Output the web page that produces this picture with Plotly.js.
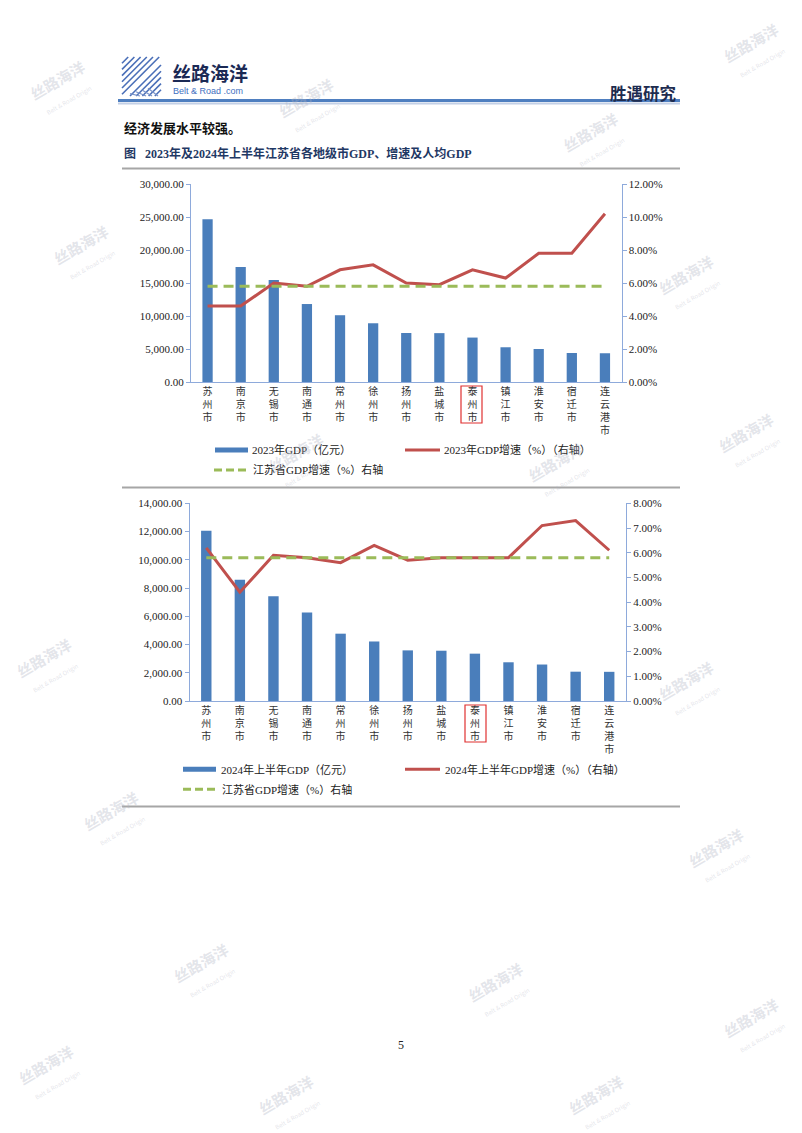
<!DOCTYPE html>
<html>
<head>
<meta charset="utf-8">
<script src="https://cdn.plot.ly/plotly-3.0.1.min.js"></script>
<style>
  html, body { margin: 0; padding: 0; background: #ffffff; }
  #chart { width: 802px; height: 1133px; }
</style>
</head>
<body>
<div id="chart"></div>
<script>
// ---------------- data ----------------
const cities = ['苏州市','南京市','无锡市','南通市','常州市','徐州市','扬州市','盐城市','泰州市','镇江市','淮安市','宿迁市','连云港市'];
const gdp2023 = [24653.4, 17421.4, 15456.2, 11813.3, 10116.4, 8900.4, 7423.3, 7403.9, 6731.7, 5264.1, 5015.1, 4398.1, 4363.6];
const growth2023 = [4.6, 4.6, 6.0, 5.8, 6.8, 7.1, 6.0, 5.9, 6.8, 6.3, 7.8, 7.8, 10.2];
const provinceGrowth2023 = [5.8, 5.8, 5.8, 5.8, 5.8, 5.8, 5.8, 5.8, 5.8, 5.8, 5.8, 5.8, 5.8];
const gdp2024H1 = [12052.4, 8591.9, 7417.1, 6274.3, 4767.2, 4215.1, 3584.7, 3560.9, 3352.3, 2741.6, 2583.4, 2075.5, 2066.3];
const growth2024H1 = [6.2, 4.4, 5.9, 5.8, 5.6, 6.3, 5.7, 5.8, 5.8, 5.8, 7.1, 7.3, 6.1];
const provinceGrowth2024H1 = [5.8, 5.8, 5.8, 5.8, 5.8, 5.8, 5.8, 5.8, 5.8, 5.8, 5.8, 5.8, 5.8];
const legend1 = ['2023年GDP（亿元）', '2023年GDP增速（%）（右轴）', '江苏省GDP增速（%）右轴'];
const legend2 = ['2024年上半年GDP（亿元）', '2024年上半年GDP增速（%）（右轴）', '江苏省GDP增速（%）右轴'];
const highlightCity = '泰州市';

// ---------------- helpers ----------------
const W = 802, H = 1133;
const px = x => x / W;
const py = y => 1 - y / H;
const tickText = cities.map(c => c.split('').join('<br>'));
const SERIF = '"Liberation Serif", "Times New Roman", "Noto Sans CJK SC", serif';
const CJK = '"Noto Sans CJK SC", "Liberation Serif", sans-serif';
const BAR = '#4a7ebb', RED = '#c0504d', GREEN = '#9bbb59', AXIS = '#8eaadb';

const traces = [
  { type: 'bar', x: cities, y: gdp2023, xaxis: 'x', yaxis: 'y', marker: { color: BAR }, width: 0.31, showlegend: false, name: legend1[0] },
  { type: 'scatter', mode: 'lines', x: cities, y: growth2023, xaxis: 'x', yaxis: 'y2', line: { color: RED, width: 3 }, showlegend: false, name: legend1[1] },
  { type: 'scatter', mode: 'lines', x: cities, y: provinceGrowth2023, xaxis: 'x', yaxis: 'y2', line: { color: GREEN, width: 3, dash: '10px,6px' }, showlegend: false, name: legend1[2] },
  { type: 'bar', x: cities, y: gdp2024H1, xaxis: 'x2', yaxis: 'y3', marker: { color: BAR }, width: 0.31, showlegend: false, name: legend2[0] },
  { type: 'scatter', mode: 'lines', x: cities, y: growth2024H1, xaxis: 'x2', yaxis: 'y4', line: { color: RED, width: 3 }, showlegend: false, name: legend2[1] },
  { type: 'scatter', mode: 'lines', x: cities, y: provinceGrowth2024H1, xaxis: 'x2', yaxis: 'y4', line: { color: GREEN, width: 3, dash: '10px,6px' }, showlegend: false, name: legend2[2] }
];

const xCommon = {
  type: 'category', tickmode: 'array', tickvals: cities, ticktext: tickText,
  showline: true, linecolor: AXIS, linewidth: 1, ticks: '', showgrid: false, zeroline: false,
  tickfont: { family: SERIF, size: 10, color: '#333' }, fixedrange: true
};
const yCommon = {
  showline: true, linecolor: AXIS, linewidth: 1, ticks: 'outside', ticklen: 4, tickcolor: AXIS,
  showgrid: false, zeroline: false, tickfont: { family: SERIF, size: 11, color: '#222' }, fixedrange: true
};

const layout = {
  width: W, height: H, autosize: false,
  margin: { l: 0, r: 0, t: 0, b: 0 },
  paper_bgcolor: '#ffffff', plot_bgcolor: 'rgba(0,0,0,0)',
  showlegend: false, bargap: 0.69,
  xaxis: Object.assign({}, xCommon, { domain: [px(191), px(621.5)], anchor: 'y' }),
  yaxis: Object.assign({}, yCommon, { domain: [py(382), py(184)], range: [0, 30000], dtick: 5000, tickformat: ',.2f', anchor: 'x' }),
  yaxis2: Object.assign({}, yCommon, { overlaying: 'y', side: 'right', range: [0, 12], dtick: 2, tickformat: '.2f', ticksuffix: '%', anchor: 'x' }),
  xaxis2: Object.assign({}, xCommon, { domain: [px(189.5), px(626)], anchor: 'y3' }),
  yaxis3: Object.assign({}, yCommon, { domain: [py(701), py(503.3)], range: [0, 14000], dtick: 2000, tickformat: ',.2f', anchor: 'x2' }),
  yaxis4: Object.assign({}, yCommon, { overlaying: 'y3', side: 'right', range: [0, 8], dtick: 1, tickformat: '.2f', ticksuffix: '%', anchor: 'x2' }),
  shapes: [],
  annotations: []
};

const S = layout.shapes, A = layout.annotations;
function line(x0, y0, x1, y1, color, width, dash) {
  S.push({ type: 'line', xref: 'paper', yref: 'paper', x0: px(x0), y0: py(y0), x1: px(x1), y1: py(y1),
           line: { color: color, width: width, dash: dash || 'solid' } });
}
function rect(x0, y0, x1, y1, fill, lineColor, lw) {
  S.push({ type: 'rect', xref: 'paper', yref: 'paper', x0: px(x0), y0: py(y0), x1: px(x1), y1: py(y1),
           fillcolor: fill || 'rgba(0,0,0,0)', line: { color: lineColor || 'rgba(0,0,0,0)', width: lw || 0 } });
}
function text(x, y, t, size, color, family, anchor, extra) {
  A.push(Object.assign({ xref: 'paper', yref: 'paper', x: px(x), y: py(y), text: t, showarrow: false,
    xanchor: anchor || 'left', yanchor: 'middle', font: { size: size, color: color, family: family } }, extra || {}));
}

// ---------------- header ----------------
const L0 = 122, T0 = 57, SZ = 39;
for (let k = 1; k <= 6; k++) {
  const d = k * 6.2;
  line(L0, T0 + d, L0 + d, T0, '#4a6fb8', 1.6);
}
for (let k = 1; k <= 5; k++) {
  const d = k * 6.2;
  line(L0 + SZ - d, T0 + SZ, L0 + SZ, T0 + SZ - d, '#4a6fb8', 1.6);
}
for (let k = 0; k < 4; k++) {
  const d = 8 + k * 6;
  line(L0 + d, T0 + SZ - (d * 0.3), L0 + d + 10, T0 + SZ, '#7a93c8', 1.2);
}
text(170, 72, '<b>丝路海洋</b>', 19, '#1b2a55', CJK, 'left');
text(171, 91, 'Belt &amp; Road .com', 9, '#3f6fbf', '"Liberation Sans", Arial, sans-serif', 'left');
text(679, 93, '<b>胜遇研究</b>', 16.5, '#1e2c50', CJK, 'right');
line(118, 100.5, 680, 100.5, '#4f7fc0', 3);
line(118, 103.5, 680, 103.5, '#c3d0e6', 2);

// body text & figure title
text(122, 127, '<b>经济发展水平较强。</b>', 13, '#111111', CJK, 'left');
text(122, 154, '<b>图   2023年及2024年上半年江苏省各地级市GDP、增速及人均GDP</b>', 12, '#1f3864', SERIF, 'left');

// separators
line(122, 168.5, 680, 168.5, '#a6a6a6', 2);
line(122, 487.5, 680, 487.5, '#a6a6a6', 2);
line(122, 806.5, 680, 806.5, '#a6a6a6', 2);

// highlight boxes around 泰州市
rect(461, 386, 482, 423, null, '#e03131', 1.2);
rect(465, 705, 486, 742, null, '#e03131', 1.2);

// legend chart 1
rect(215, 447.5, 248, 452.5, BAR);
text(250, 450, legend1[0], 11, '#222', SERIF, 'left');
line(405, 450, 440, 450, RED, 3);
text(442, 450, legend1[1], 11, '#222', SERIF, 'left');
line(214, 470, 247, 470, GREEN, 3, '8px,4px');
text(251, 470, legend1[2], 11, '#222', SERIF, 'left');

// legend chart 2
rect(183, 766.8, 216, 771.8, BAR);
text(219, 769.3, legend2[0], 11, '#222', SERIF, 'left');
line(405, 769.3, 440, 769.3, RED, 3);
text(443, 769.3, legend2[1], 11, '#222', SERIF, 'left');
line(183, 789.3, 216, 789.3, GREEN, 3, '8px,4px');
text(220, 789.3, legend2[2], 11, '#222', SERIF, 'left');

// page number
text(401, 1045, '5', 12, '#222', SERIF, 'center');

// watermarks
const marks = [[62,88],[310,105],[595,140],[755,50],[85,252],[690,282],[750,440],[48,665],[690,688],[115,818],[720,855],[205,970],[500,990],[755,1025],[50,1072],[290,1102],[600,1102],[300,460],[560,470]];
marks.forEach(m => {
  text(m[0], m[1], '<b>丝路海洋</b><br><span style="font-size:6px">Belt &amp; Road Origin</span>', 15,
       'rgba(175,180,195,0.35)', CJK, 'center', { textangle: -30 });
});

Plotly.newPlot('chart', traces, layout, { displayModeBar: false, staticPlot: true });
</script>
</body>
</html>
